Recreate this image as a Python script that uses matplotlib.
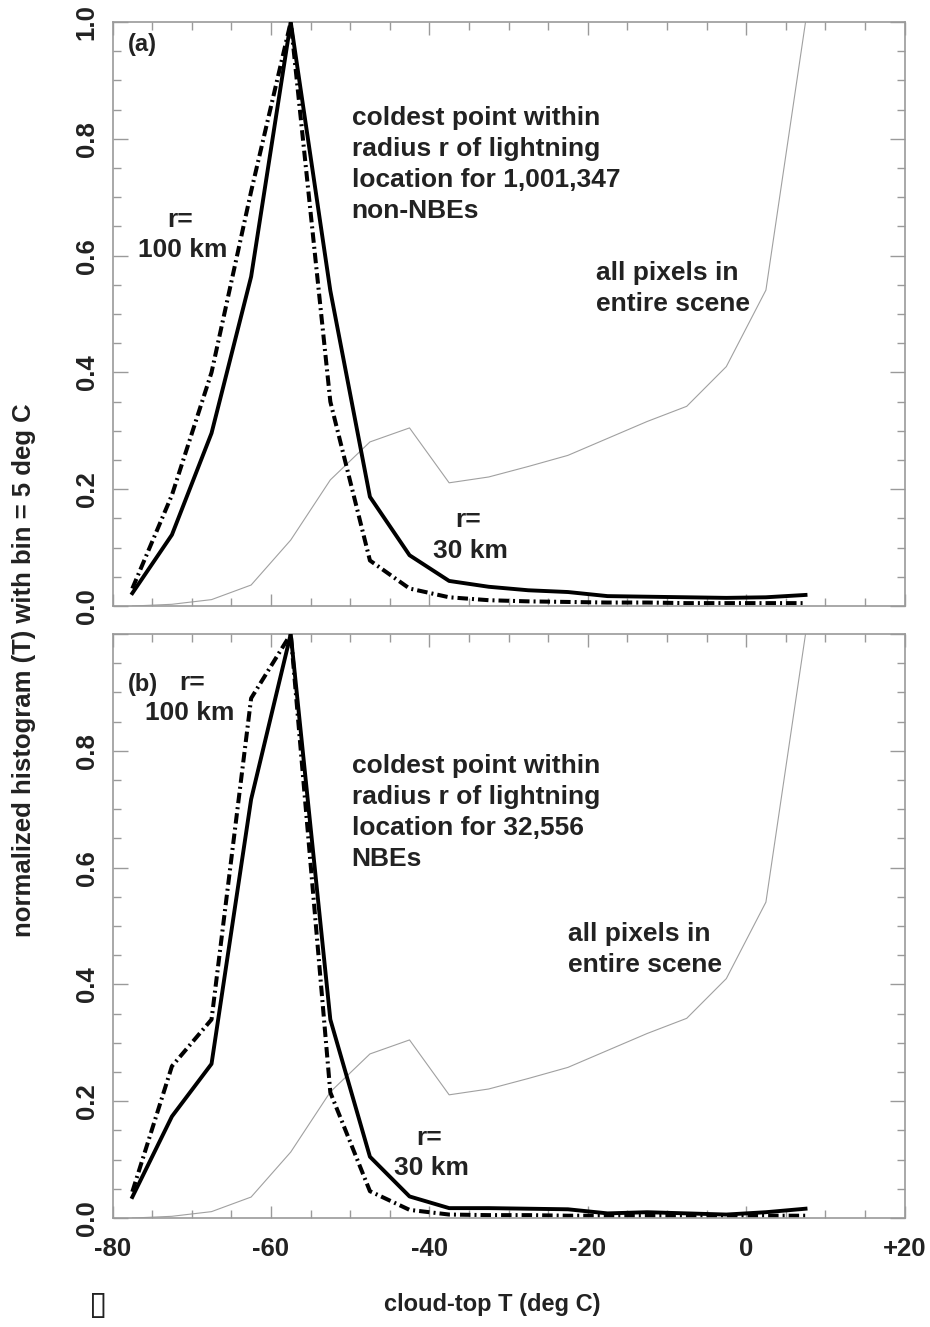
#!/usr/bin/env python3
"""
Normalized cloud-top temperature histograms (5 deg C bins) for the coldest
point within radius r of each lightning location, non-NBEs (a) vs NBEs (b),
compared with the histogram of all pixels in the scene.

    python plot.py   ->  out.png
"""

import matplotlib
matplotlib.use("Agg")  # headless
import matplotlib.pyplot as plt
from matplotlib.ticker import MultipleLocator

# ── Data ──────────────────────────────────────────────────────────────────────

# bin centres, deg C
BIN_CENTRES = [-77.5, -72.5, -67.5, -62.5, -57.5, -52.5, -47.5, -42.5, -37.5,
               -32.5, -27.5, -22.5, -17.5, -12.5, -7.5, -2.5, 2.5, 7.5]

# all pixels in entire scene (same for both panels)
SCENE_ALL = [0.0, 0.003, 0.011, 0.036, 0.113, 0.216, 0.281, 0.305, 0.211,
             0.221, 0.239, 0.258, 0.287, 0.316, 0.342, 0.41, 0.541, 1.0]

# (a) 1,001,347 non-NBEs
NON_NBE_R30 = [0.022, 0.122, 0.296, 0.564, 1.0, 0.54, 0.187, 0.087, 0.043,
               0.033, 0.027, 0.024, 0.017, 0.016, 0.015, 0.014, 0.015, 0.019]
NON_NBE_R100 = [0.03, 0.19, 0.40, 0.71, 1.0, 0.35, 0.078, 0.03, 0.015,
                0.01, 0.008, 0.007, 0.006, 0.006, 0.005, 0.005, 0.005, 0.005]

# (b) 32,556 NBEs
NBE_R30 = [0.036, 0.174, 0.264, 0.717, 1.0, 0.34, 0.105, 0.037, 0.017,
           0.017, 0.016, 0.015, 0.008, 0.01, 0.008, 0.006, 0.01, 0.016]
NBE_R100 = [0.045, 0.26, 0.34, 0.89, 1.0, 0.215, 0.046, 0.014, 0.006,
            0.005, 0.005, 0.004, 0.004, 0.004, 0.004, 0.004, 0.004, 0.004]

X_TICKS = [-80, -60, -40, -20, 0, 20]
X_TICK_LABELS = ["-80", "-60", "-40", "-20", "0", "+20"]
Y_TICKS = [0.0, 0.2, 0.4, 0.6, 0.8, 1.0]

# ── Style ─────────────────────────────────────────────────────────────────────

plt.rcParams["font.family"] = ["Liberation Sans", "DejaVu Sans"]
plt.rcParams["font.weight"] = "bold"

TEXT_COLOR = "#222222"
FRAME_COLOR = "#9a9a9a"
DASHDOT = (0, (2.6, 1.0, 0.5, 1.0))
TEXT_SIZE = 19
TICK_SIZE = 18.5


def style_axes(ax, show_xlabels: bool, y_labels: list[str]) -> None:
    """Frame, inward ticks on all four sides, rotated y tick labels."""
    ax.set_xlim(-80, 20)
    ax.set_ylim(0, 1.0)
    for sp in ax.spines.values():
        sp.set_color(FRAME_COLOR)
        sp.set_linewidth(1.2)

    ax.set_xticks(X_TICKS)
    ax.set_xticklabels(X_TICK_LABELS if show_xlabels else [])
    ax.xaxis.set_minor_locator(MultipleLocator(5))
    ax.set_yticks(Y_TICKS)
    ax.set_yticklabels(y_labels)
    ax.yaxis.set_minor_locator(MultipleLocator(0.05))

    ax.tick_params(which="both", direction="in", top=True, right=True,
                   color=FRAME_COLOR, width=1.0, labelcolor=TEXT_COLOR,
                   labelsize=TICK_SIZE)
    ax.tick_params(axis="x", which="major", length=9, pad=14)
    ax.tick_params(axis="y", which="major", length=11, pad=10)
    ax.tick_params(which="minor", length=5.5)
    ax.tick_params(axis="y", labelrotation=90)
    for lab in ax.get_yticklabels():
        lab.set_va("center")


def draw_panel(ax, r30, r100) -> None:
    ax.plot(BIN_CENTRES, SCENE_ALL, color="#a0a0a0", lw=0.8, zorder=1)
    ax.plot(BIN_CENTRES, r100, color="black", lw=2.9, ls=DASHDOT, zorder=2)
    ax.plot(BIN_CENTRES, r30, color="black", lw=2.8, ls="-", zorder=3)


def note(ax, x, y, s, ha="left", size=TEXT_SIZE):
    ax.text(x, y, s, ha=ha, va="center", fontsize=size, color=TEXT_COLOR,
            fontweight="bold", linespacing=1.37)


def radius_note(ax, x, y_top, y_bottom, km: str) -> None:
    """'r=' over the radius, each line centred on x."""
    note(ax, x - 0.3, y_top, "r=", ha="center")
    note(ax, x, y_bottom, km, ha="center")


# ── Figure ────────────────────────────────────────────────────────────────────

fig = plt.figure(figsize=(9.3, 13.27), dpi=100)
ax_a = fig.add_axes([0.121, 0.5433, 0.8516, 0.4401])
ax_b = fig.add_axes([0.121, 0.0821, 0.8516, 0.4401])

# (a) non-NBEs
draw_panel(ax_a, NON_NBE_R30, NON_NBE_R100)
style_axes(ax_a, False, ["0.0", "0.2", "0.4", "0.6", "0.8", "1.0"])
note(ax_a, -78.1, 0.962, "(a)", size=17)
radius_note(ax_a, -71.2, 0.661, 0.610, "100 km")
note(ax_a, -49.8, 0.756,
     "coldest point within\nradius r of lightning\nlocation for 1,001,347\nnon-NBEs")
note(ax_a, -18.9, 0.543, "all pixels in\nentire scene")
radius_note(ax_a, -34.8, 0.148, 0.094, "30 km")

# (b) NBEs
draw_panel(ax_b, NBE_R30, NBE_R100)
style_axes(ax_b, True, ["0.0", "0.2", "0.4", "0.6", "0.8", ""])
note(ax_b, -78.1, 0.913, "(b)", size=17)
note(ax_b, -69.9, 0.916, "r=", ha="center")
note(ax_b, -70.3, 0.865, "100 km", ha="center")
note(ax_b, -49.8, 0.695,
     "coldest point within\nradius r of lightning\nlocation for 32,556\nNBEs")
note(ax_b, -22.5, 0.460, "all pixels in\nentire scene")
radius_note(ax_b, -39.7, 0.137, 0.086, "30 km")

# shared axis titles
fig.text(24 / 930, 1 - 670 / 1327,
         "normalized histogram (T) with bin = 5 deg C",
         rotation=90, ha="center", va="center", fontsize=18.5,
         color=TEXT_COLOR, fontweight="bold")
fig.text(492 / 930, 1 - 1305 / 1327, "cloud-top T (deg C)",
         ha="center", va="center", fontsize=17, color=TEXT_COLOR,
         fontweight="bold")
fig.text(98 / 930, 1 - 1305 / 1327, "\u25af", ha="center", va="center",
         fontsize=24, color=TEXT_COLOR, family=["DejaVu Sans"])

fig.savefig("out.png", dpi=100)
plt.close(fig)
